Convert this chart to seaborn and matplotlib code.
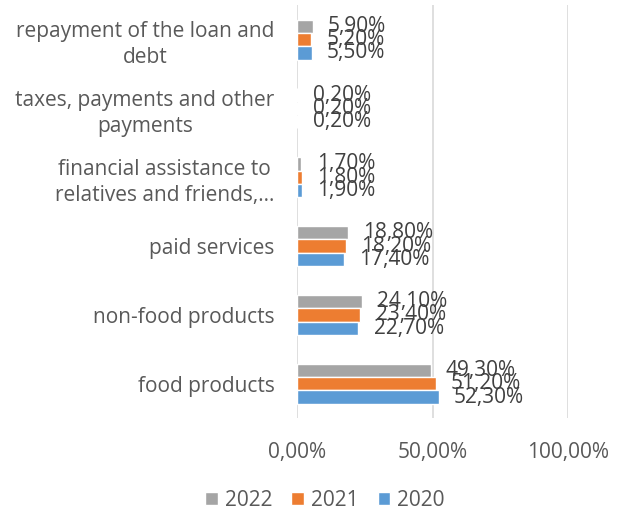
import matplotlib
matplotlib.use("Agg")
import matplotlib.pyplot as plt
import seaborn as sns
import pandas as pd
from matplotlib.ticker import FuncFormatter

categories = ["repayment of the loan and\ndebt",
              "taxes, payments and other\npayments",
              "financial assistance to\nrelatives and friends,...",
              "paid services",
              "non-food products",
              "food products"]
years = ["2022", "2021", "2020"]
v2022 = [5.9, 0.2, 1.7, 18.8, 24.1, 49.3]
v2021 = [5.2, 0.2, 1.8, 18.2, 23.4, 51.2]
v2020 = [5.5, 0.2, 1.9, 17.4, 22.7, 52.3]
colors = ["#A5A5A5", "#ED7D31", "#5B9BD5"]

rows = []
for yr, vals in zip(years, [v2022, v2021, v2020]):
    for c, v in zip(categories, vals):
        rows.append({"category": c, "year": yr, "value": v / 100})
df = pd.DataFrame(rows)

sns.set_theme(style="white")
plt.rcParams['font.family'] = ['Open Sans', 'DejaVu Sans']
txt = "#595959"
fs = 15

fig = plt.figure(figsize=(6.17, 5.15), dpi=100)
ax = fig.add_axes([0.481, 0.188, 0.440, 0.802])
sns.barplot(data=df, y="category", x="value", hue="year", order=categories,
            hue_order=years, palette=colors, orient="h", width=0.58,
            saturation=1, ax=ax, legend=True)

for cont in ax.containers:
    ax.bar_label(cont, labels=[f"{w*100:.1f}0%".replace(".", ",") for w in cont.datavalues],
                 padding=11, fontsize=fs, color="#404040")

ax.set_xlim(0, 1)
ax.set_xticks([0, 0.5, 1.0])
ax.xaxis.set_major_formatter(FuncFormatter(lambda v, p: f"{v*100:.2f}".replace(".", ",") + "%"))
ax.grid(axis="x", color="#D9D9D9", linewidth=1.2)
ax.set_axisbelow(True)
for s in ax.spines.values():
    s.set_visible(False)
ax.set_xlabel("")
ax.set_ylabel("")
ax.tick_params(axis="both", length=0, colors=txt, labelsize=fs)
ax.tick_params(axis="x", pad=17)
ax.tick_params(axis="y", pad=16)
for t in ax.get_yticklabels():
    t.set_horizontalalignment("right")
    t.set_multialignment("center")
    t.set_linespacing(1.3)

h, l = ax.get_legend_handles_labels()
ax.legend(h, l, loc="center", bbox_to_anchor=(0.527, 0.028), bbox_transform=fig.transFigure,
          ncol=3, frameon=False, fontsize=fs, handlelength=0.6, handleheight=0.6,
          handletextpad=0.35, columnspacing=0.9, labelcolor=txt)

fig.savefig("out.png", dpi=100)
